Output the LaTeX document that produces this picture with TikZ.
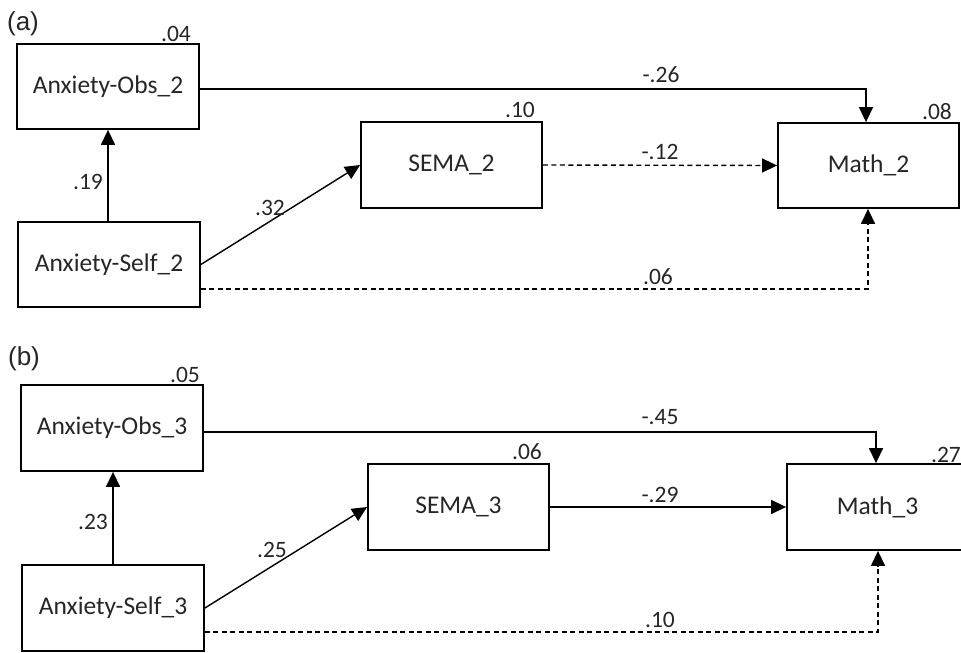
\documentclass[tikz,border=0pt]{standalone}
\usepackage{fontspec}
\setmainfont{Carlito}
\newfontfamily\panelfont{Liberation Sans}
\usetikzlibrary{arrows.meta}
\begin{document}
\begin{tikzpicture}[x=1pt,y=-1pt,
  box/.style={draw=black, line width=1.8pt, minimum width=181pt, minimum height=85pt, inner sep=0pt, font=\fontsize{25.5}{30}\selectfont, text=black!85},
  lab/.style={font=\fontsize{23.5}{28}\selectfont, text=black!85, inner sep=0pt},
  panel/.style={font=\panelfont\fontsize{26}{30}\selectfont, text=black!85, inner sep=0pt},
  arr/.style={line width=1.4pt, -{Triangle[length=15pt,width=14pt]}},
  darr/.style={arr, dash pattern=on 5pt off 3.5pt}]
\useasboundingbox (0,0) rectangle (961,653);
% panel (a)
\node[panel] (pa) at (23,24) {(a)};
\node[box, minimum width=182pt] (obs2) at (108,86.5) {Anxiety-Obs\_2};
\node[box, minimum width=182pt] (self2) at (109,264.5) {Anxiety-Self\_2};
\node[box, minimum height=86pt] (sema2) at (451.5,165) {SEMA\_2};
\node[box] (math2) at (868.5,165.5) {Math\_2};
\node[lab] (r04) at (176,34) {.04};
\node[lab] (r10) at (520,110) {.10};
\node[lab] (r08) at (937,112) {.08};
\coordinate (c2a) at (866,0);
\coordinate (c2b) at (868,0);
\draw[arr] (self2.north -| 108,0) -- (obs2.south -| 108,0);
\draw[arr] (self2.east) -- (sema2.west);
\draw[arr] ([yshift=-2.5pt]obs2.east) -| (c2a |- math2.north);
\draw[darr] (sema2.east) -- (math2.west);
\draw[darr] ([yshift=-24.5pt]self2.east) -| (c2b |- math2.south);
\node[lab] (l19) at (88,182) {.19};
\node[lab] (l32) at (270,208) {.32};
\node[lab] (l26) at (661,75) {-.26};
\node[lab] (l12) at (660,152) {-.12};
\node[lab] (l06) at (658,277) {.06};
% panel (b)
\node[panel] (pb) at (24,359) {(b)};
\node[box, minimum width=182pt, minimum height=86pt] (obs3) at (112,428) {Anxiety-Obs\_3};
\node[box, minimum width=182pt, minimum height=86pt] (self3) at (113,608) {Anxiety-Self\_3};
\node[box, minimum height=86pt] (sema3) at (458.5,507) {SEMA\_3};
\node[box, minimum height=86pt] (math3) at (877.5,507) {Math\_3};
\node[lab] (r05) at (185,375) {.05};
\node[lab] (r06) at (527,452) {.06};
\node[lab] (r27) at (946,455) {.27};
\coordinate (c3a) at (876,0);
\coordinate (c3b) at (878,0);
\draw[arr] (self3.north -| 113,0) -- (obs3.south -| 113,0);
\draw[arr] (self3.east) -- (sema3.west);
\draw[arr] ([yshift=-4pt]obs3.east) -| (c3a |- math3.north);
\draw[arr] (sema3.east) -- (math3.west);
\draw[darr] ([yshift=-24pt]self3.east) -| (c3b |- math3.south);
\node[lab] (l23) at (93,522) {.23};
\node[lab] (l25) at (272,550) {.25};
\node[lab] (l45) at (660,417) {-.45};
\node[lab] (l29) at (660,495) {-.29};
\node[lab] (l10) at (660,620) {.10};
\end{tikzpicture}
\end{document}
